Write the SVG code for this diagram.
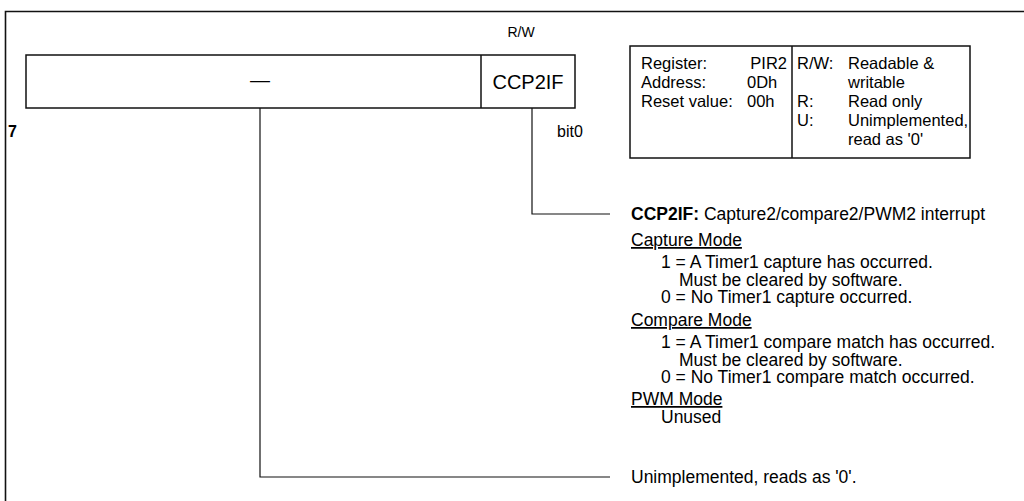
<svg xmlns="http://www.w3.org/2000/svg" width="1024" height="501" viewBox="0 0 1024 501">
<style>
text{font-family:"Liberation Sans",Arial,Helvetica,sans-serif;fill:#000}
.box{fill:#fff;stroke:#111;stroke-width:1.5}
.ln{fill:none;stroke:#111;stroke-width:1.2}
.inf{font-size:16.5px}
.d{font-size:17.5px}
.u{text-decoration:underline}
</style>
<rect width="1024" height="501" fill="#fff"/>
<g id="frame">
<polyline class="ln" points="5.5,501 5.5,11.5 1024,11.5" style="stroke-width:1.6"/>
</g>
<g id="register">
<rect class="box" x="26" y="55" width="549" height="53"/>
<line class="ln" x1="481" y1="55" x2="481" y2="108" style="stroke-width:1.5"/>
<text x="521" y="37" font-size="14" text-anchor="middle">R/W</text>
<text x="260" y="87" font-size="20" text-anchor="middle">—</text>
<text x="528" y="89" font-size="20" text-anchor="middle">CCP2IF</text>
<text x="8" y="137" font-size="16" font-weight="bold">7</text>
<text x="557" y="137" font-size="16">bit0</text>
</g>
<g id="info">
<rect class="box" x="630" y="46" width="340" height="112"/>
<line class="ln" x1="792" y1="46" x2="792" y2="158" style="stroke-width:1.5"/>
<text class="inf" x="641" y="69">Register:</text>
<text class="inf" x="787" y="69" text-anchor="end">PIR2</text>
<text class="inf" x="641" y="88">Address:</text>
<text class="inf" x="747" y="88">0Dh</text>
<text class="inf" x="641" y="107">Reset value:</text>
<text class="inf" x="747" y="107">00h</text>
<text class="inf" x="797" y="69">R/W:</text>
<text class="inf" x="848" y="69">Readable &amp;</text>
<text class="inf" x="848" y="88">writable</text>
<text class="inf" x="797" y="107">R:</text>
<text class="inf" x="848" y="107">Read only</text>
<text class="inf" x="797" y="126">U:</text>
<text class="inf" x="848" y="126">Unimplemented,</text>
<text class="inf" x="848" y="145">read as '0'</text>
</g>
<g id="connectors">
<polyline class="ln" points="532,108 532,214 610,214"/>
<polyline class="ln" points="260,108 260,477 610,477"/>
</g>
<g id="desc-bit0">
<text class="d" x="631" y="220"><tspan font-weight="bold">CCP2IF:</tspan> Capture2/compare2/PWM2 interrupt</text>
<text class="d u" x="631" y="246">Capture Mode</text>
<text class="d" x="661" y="268">1 = A Timer1 capture has occurred.</text>
<text class="d" x="679" y="285.5">Must be cleared by software.</text>
<text class="d" x="661" y="303">0 = No Timer1 capture occurred.</text>
<text class="d u" x="631" y="326">Compare Mode</text>
<text class="d" x="661" y="348">1 = A Timer1 compare match has occurred.</text>
<text class="d" x="679" y="365.5">Must be cleared by software.</text>
<text class="d" x="661" y="383">0 = No Timer1 compare match occurred.</text>
<text class="d u" x="631" y="405">PWM Mode</text>
<text class="d" x="661" y="422.5">Unused</text>
</g>
<g id="desc-unimpl">
<text class="d" x="631" y="483">Unimplemented, reads as '0'.</text>
</g>
</svg>
